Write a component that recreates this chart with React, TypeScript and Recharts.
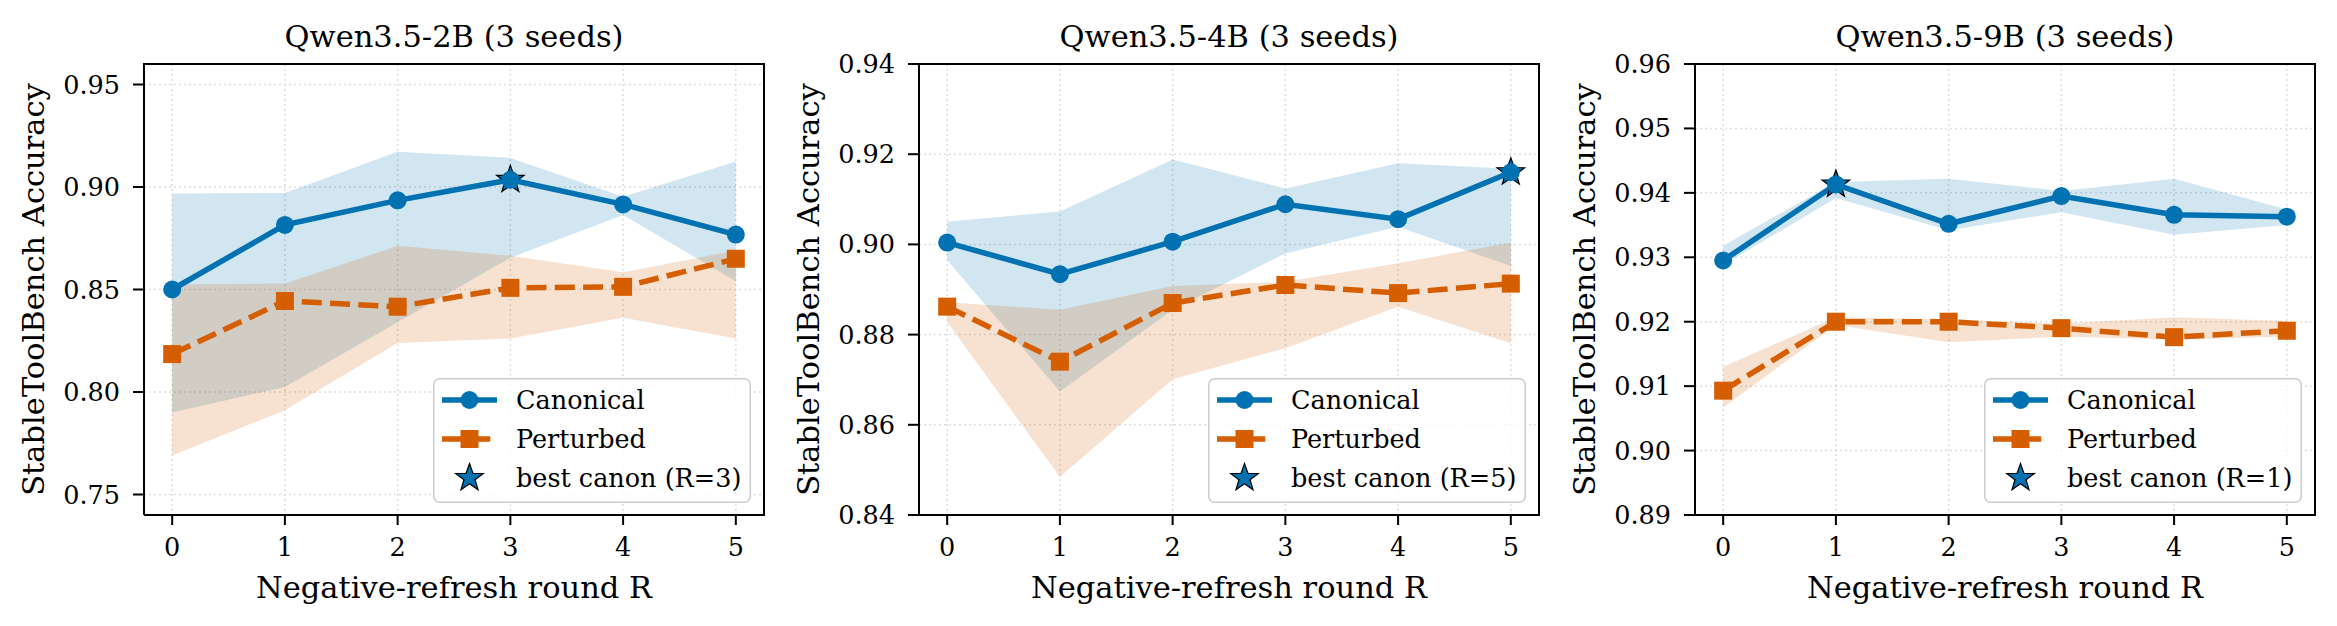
import React from "react";
import { Area, CartesianGrid, ComposedChart, Legend, Line, Scatter, XAxis, YAxis } from "recharts";

// negative-refresh rounds R
const ROUNDS = [0, 1, 2, 3, 4, 5];

// Qwen3.5-2B
const canon2B = [0.85, 0.8815, 0.8935, 0.9035, 0.8915, 0.8768];
const canon2BLo = [0.79, 0.8024, 0.834, 0.8655, 0.8863, 0.854];
const canon2BHi = [0.8968, 0.8971, 0.9172, 0.9142, 0.8952, 0.9125];
const pert2B = [0.8185, 0.8444, 0.8416, 0.8508, 0.8513, 0.865];
const pert2BLo = [0.769, 0.7911, 0.8239, 0.8261, 0.8362, 0.8261];
const pert2BHi = [0.8524, 0.8529, 0.8713, 0.8665, 0.8584, 0.869];

// Qwen3.5-4B
const canon4B = [0.9004, 0.8934, 0.9006, 0.9089, 0.9056, 0.916];
const canon4BLo = [0.8965, 0.8674, 0.8855, 0.898, 0.9039, 0.8952];
const canon4BHi = [0.905, 0.9073, 0.9188, 0.9124, 0.918, 0.9168];
const pert4B = [0.8862, 0.874, 0.887, 0.891, 0.8892, 0.8913];
const pert4BLo = [0.8828, 0.8484, 0.8701, 0.877, 0.8862, 0.8781];
const pert4BHi = [0.8872, 0.8855, 0.8908, 0.8917, 0.8958, 0.9004];

// Qwen3.5-9B
const canon9B = [0.9295, 0.9413, 0.9352, 0.9395, 0.9366, 0.9363];
const canon9BLo = [0.9288, 0.9392, 0.9342, 0.937, 0.9335, 0.935];
const canon9BHi = [0.9318, 0.9417, 0.9422, 0.9403, 0.9422, 0.9374];
const pert9B = [0.9093, 0.92, 0.92, 0.919, 0.9176, 0.9186];
const pert9BLo = [0.9067, 0.9195, 0.9168, 0.9177, 0.9172, 0.9177];
const pert9BHi = [0.913, 0.9207, 0.9204, 0.9197, 0.9207, 0.9201];

const yTicks2B = [0.75, 0.8, 0.85, 0.9, 0.95];
const yTicks4B = [0.84, 0.86, 0.88, 0.9, 0.92, 0.94];
const yTicks9B = [0.89, 0.9, 0.91, 0.92, 0.93, 0.94, 0.95, 0.96];

const BLUE = "#0072B2";
const ORANGE = "#D55E00";
const FONT = "DejaVu Serif";
const DASH = "20 8.3";
const LW = 5.5;

const CHART_W = 775;
const CHART_H = 626;
const AXIS_W = 144;
const PLOT_W = 620;
const TOP = 64;
const X_AXIS_H = 111;
const PLOT_H = CHART_H - TOP - X_AXIS_H;
const SPINE_W = 2;
const X_DOMAIN: [number, number] = [-0.25, 5.25];

type Row = { r: number; canon: number; pert: number; canonBand: [number, number]; pertBand: [number, number] };

function buildRows(c: number[], cLo: number[], cHi: number[], p: number[], pLo: number[], pHi: number[]): Row[] {
  return ROUNDS.map((r, i) => ({
    r,
    canon: c[i],
    pert: p[i],
    canonBand: [cLo[i], cHi[i]],
    pertBand: [pLo[i], pHi[i]],
  }));
}

function starPoints(cx: number, cy: number, R: number, r: number) {
  const pts: string[] = [];
  for (let i = 0; i < 10; i++) {
    const a = (-90 + i * 36) * (Math.PI / 180);
    const rad = i % 2 === 0 ? R : r;
    pts.push(`${cx + rad * Math.cos(a)},${cy + rad * Math.sin(a)}`);
  }
  return pts.join(" ");
}

const renderStar = (props: any) => (
  <polygon points={starPoints(props.cx, props.cy, 14.5, 5.8)} fill={BLUE} stroke="#000" strokeWidth={1.2} />
);

const squareDot = (props: any) => (
  <rect key={`sq-${props.index}`} x={props.cx - 9} y={props.cy - 9} width={18} height={18} fill={ORANGE} />
);

function LegendBox({ best }: { best: number }) {
  const rows = [22, 61, 100];
  return (
    <svg width={318} height={125} style={{ display: "block" }}>
      <rect x={0.75} y={0.75} width={316.5} height={123.5} rx={6} fill="#fff" fillOpacity={0.8} stroke="#cccccc" strokeWidth={1.5} />
      <line x1={9} x2={64} y1={rows[0]} y2={rows[0]} stroke={BLUE} strokeWidth={LW} />
      <circle cx={36.5} cy={rows[0]} r={9} fill={BLUE} />
      <line x1={9} x2={64} y1={rows[1]} y2={rows[1]} stroke={ORANGE} strokeWidth={LW} strokeDasharray={DASH} />
      <rect x={27.5} y={rows[1] - 9} width={18} height={18} fill={ORANGE} />
      <polygon points={starPoints(36.5, rows[2], 14.5, 5.8)} fill={BLUE} stroke="#000" strokeWidth={1.2} />
      {["Canonical", "Perturbed", `best canon (R=${best})`].map((t, i) => (
        <text key={t} x={83} y={rows[i] + 9.3} fontFamily={FONT} fontSize={25.5} style={{ fontFamily: FONT, fontSize: 25.5 }} fill="#000">
          {t}
        </text>
      ))}
    </svg>
  );
}

type PanelProps = {
  left: number;
  title: string;
  rows: Row[];
  yDomain: [number, number];
  yTicks: number[];
  best: number;
};

function Panel({ left, title, rows, yDomain, yTicks, best }: PanelProps) {
  const bestPoint = [{ r: best, v: rows[best].canon }];
  const tickStyle = { fontFamily: FONT, fontSize: 25.5, style: { fontFamily: FONT, fontSize: 25.5 }, fill: "#000" };
  const spine = { stroke: "#000", strokeWidth: SPINE_W };
  return (
    <div style={{ position: "absolute", left, top: 0, width: CHART_W, height: CHART_H, fontFamily: FONT }}>
      <ComposedChart
        width={CHART_W}
        height={CHART_H}
        data={rows}
        style={{ fontFamily: FONT }}
        margin={{ top: TOP - SPINE_W, right: CHART_W - AXIS_W - PLOT_W - SPINE_W, bottom: 0, left: 0 }}
      >
        <CartesianGrid stroke="#dddddd" strokeWidth={1.5} strokeDasharray="2 3" />
        <XAxis
          dataKey="r"
          type="number"
          domain={X_DOMAIN}
          ticks={ROUNDS}
          height={X_AXIS_H}
          tick={tickStyle}
          tickSize={10}
          tickMargin={13}
          tickLine={spine}
          axisLine={spine}
          label={{ value: "Negative-refresh round R", position: "insideBottom", offset: 28, style: { fontFamily: FONT, fontSize: 30.5, fill: "#000" } }}
        />
        {/* top spine */}
        <XAxis xAxisId="top" orientation="top" dataKey="r" type="number" domain={X_DOMAIN} ticks={ROUNDS} height={SPINE_W} tick={false} tickLine={false} axisLine={spine} />
        <YAxis
          type="number"
          domain={yDomain}
          ticks={yTicks}
          width={AXIS_W}
          tick={tickStyle}
          tickSize={11}
          tickMargin={13}
          tickLine={spine}
          axisLine={spine}
          tickFormatter={(v: number) => v.toFixed(2)}
          label={{ value: "StableToolBench Accuracy", angle: -90, position: "insideLeft", offset: 33, style: { fontFamily: FONT, fontSize: 30.5, fill: "#000", textAnchor: "middle" } }}
        />
        {/* right spine */}
        <YAxis yAxisId="right" orientation="right" type="number" domain={yDomain} ticks={yTicks} width={SPINE_W} tick={false} tickLine={false} axisLine={spine} />
        <Area type="linear" dataKey="canonBand" stroke="none" fill={BLUE} fillOpacity={0.18} dot={false} activeDot={false} isAnimationActive={false} />
        <Area type="linear" dataKey="pertBand" stroke="none" fill={ORANGE} fillOpacity={0.18} dot={false} activeDot={false} isAnimationActive={false} />
        <Line type="linear" dataKey="canon" stroke={BLUE} strokeWidth={LW} dot={{ r: 9, fill: BLUE, stroke: "none" }} activeDot={false} isAnimationActive={false} />
        <Line type="linear" dataKey="pert" stroke={ORANGE} strokeWidth={LW} strokeDasharray={DASH} dot={squareDot} activeDot={false} isAnimationActive={false} />
        <Scatter data={bestPoint} dataKey="v" shape={renderStar} isAnimationActive={false} />
        <Legend
          layout="vertical"
          align="center"
          verticalAlign="middle"
          wrapperStyle={{ left: 433, top: 378, width: 318, height: 125 }}
          content={() => <LegendBox best={best} />}
        />
      </ComposedChart>
      <svg
        width={CHART_W}
        height={CHART_H}
        style={{ position: "absolute", left: 0, top: 0, zIndex: 5, pointerEvents: "none" }}
      >
        <text x={AXIS_W + PLOT_W / 2} y={47} textAnchor="middle" fontFamily={FONT} fontSize={30.5} style={{ fontFamily: FONT, fontSize: 30.5 }} fill="#000">
          {title}
        </text>
        <polyline
          points={`${AXIS_W},${TOP} ${AXIS_W + PLOT_W},${TOP} ${AXIS_W + PLOT_W},${TOP + PLOT_H}`}
          fill="none"
          stroke="#000"
          strokeWidth={SPINE_W}
          strokeLinecap="square"
        />
      </svg>
    </div>
  );
}

const rows2B = buildRows(canon2B, canon2BLo, canon2BHi, pert2B, pert2BLo, pert2BHi);
const rows4B = buildRows(canon4B, canon4BLo, canon4BHi, pert4B, pert4BLo, pert4BHi);
const rows9B = buildRows(canon9B, canon9BLo, canon9BHi, pert9B, pert9BLo, pert9BHi);

export default function App() {
  return (
    <div style={{ position: "absolute", left: 0, top: 0, width: 2337, height: 626, background: "#fff", overflow: "hidden", fontFamily: FONT }}>
      <Panel left={0} title="Qwen3.5-2B (3 seeds)" rows={rows2B} yDomain={[0.74, 0.96]} yTicks={yTicks2B} best={3} />
      <Panel left={775} title="Qwen3.5-4B (3 seeds)" rows={rows4B} yDomain={[0.84, 0.94]} yTicks={yTicks4B} best={5} />
      <Panel left={1551} title="Qwen3.5-9B (3 seeds)" rows={rows9B} yDomain={[0.89, 0.96]} yTicks={yTicks9B} best={1} />
    </div>
  );
}
